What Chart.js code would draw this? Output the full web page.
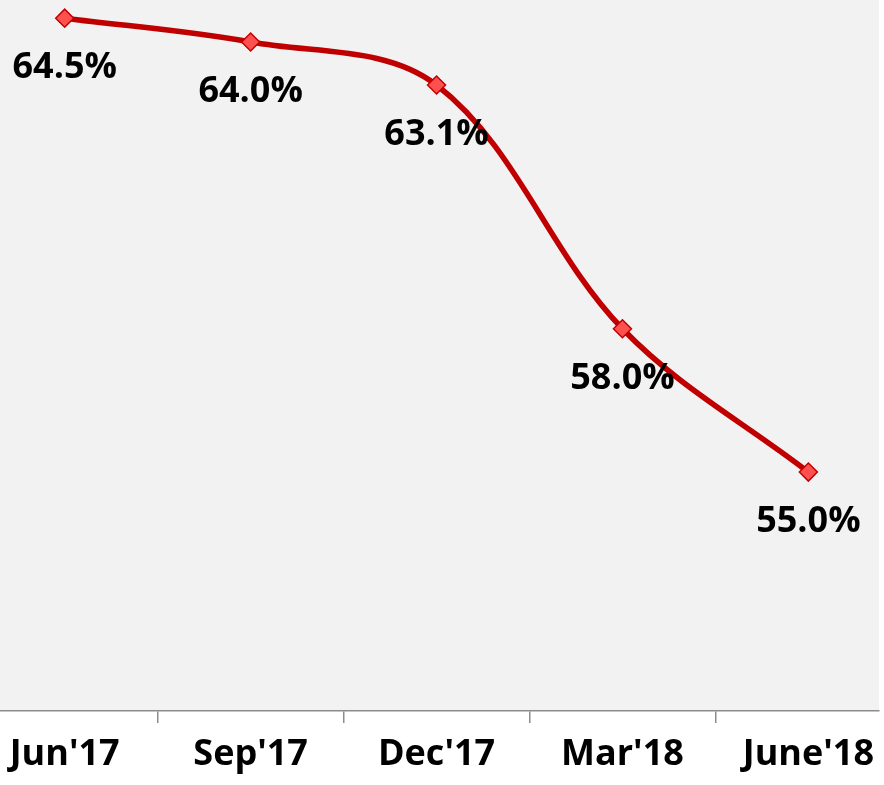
<!DOCTYPE html>
<html>
<head>
<meta charset="utf-8">
<script src="https://cdn.jsdelivr.net/npm/chart.js@4/dist/chart.umd.min.js"></script>
<style>
  html, body { margin: 0; padding: 0; background: #ffffff; overflow: hidden; }
  canvas { display: block; }
</style>
</head>
<body>
<canvas id="myChart" width="884" height="785"></canvas>
<script>
// chart data
var categories = ["Jun'17", "Sep'17", "Dec'17", "Mar'18", "June'18"];
var values = [64.5, 64.0, 63.1, 58.0, 55.0];
var valueLabels = ["64.5%", "64.0%", "63.1%", "58.0%", "55.0%"];

var FONT = "'Open Sans', 'DejaVu Sans', sans-serif";

// gray plot area, white below the axis
const plotBackground = {
    id: 'plotBackground',
    beforeDraw(chart) {
        const {ctx, chartArea} = chart;
        ctx.save();
        ctx.fillStyle = '#f2f2f2';
        ctx.fillRect(chartArea.left, chartArea.top, chartArea.right - chartArea.left, chartArea.bottom - chartArea.top);
        ctx.restore();
    }
};

// percent labels below each point
const valueLabelPlugin = {
    id: 'valueLabelPlugin',
    afterDatasetsDraw(chart) {
        const ctx = chart.ctx;
        const meta = chart.getDatasetMeta(0);
        ctx.save();
        ctx.fillStyle = '#000000';
        ctx.font = 'bold 36px ' + FONT;
        ctx.textAlign = 'center';
        ctx.textBaseline = 'middle';
        meta.data.forEach((pt, i) => {
            ctx.fillText(valueLabels[i], pt.x, pt.y + 50);
        });
        ctx.restore();
    }
};

const ctx = document.getElementById('myChart');
new Chart(ctx, {
    type: 'line',
    data: {
        datasets: [{
            data: values.map((v, i) => ({x: i, y: v})),
            borderColor: '#c00000',
            borderWidth: 5.5,
            tension: 0.35,
            pointStyle: 'rectRot',
            pointRadius: 9,
            pointHoverRadius: 9,
            pointBackgroundColor: '#ff5050',
            pointBorderColor: '#c00000',
            pointBorderWidth: 1.5,
            clip: false
        }]
    },
    options: {
        responsive: false,
        animation: false,
        layout: { padding: 0, autoPadding: false },
        plugins: {
            legend: { display: false },
            tooltip: { enabled: false }
        },
        scales: {
            x: {
                type: 'linear',
                min: -0.348,
                max: 4.38,
                afterBuildTicks: (scale) => {
                    const t = [];
                    for (let v = 0; v <= 4; v += 0.5) t.push({value: v});
                    scale.ticks = t;
                },
                afterFit: (scale) => { scale.height = 74; },
                grid: {
                    drawOnChartArea: false,
                    drawTicks: true,
                    tickLength: 12,
                    lineWidth: 1.5,
                    color: (c) => (c.tick && c.tick.value % 1 === 0) ? 'rgba(0,0,0,0)' : '#8c8c8c'
                },
                border: { display: true, color: '#8c8c8c', width: 1.5 },
                ticks: {
                    autoSkip: false,
                    maxRotation: 0,
                    minRotation: 0,
                    padding: 10,
                    color: '#000000',
                    font: { family: FONT, size: 36, weight: 'bold' },
                    callback: (v) => (v % 1 === 0) ? categories[v] : ''
                }
            },
            y: {
                display: false,
                min: 50,
                max: 64.88
            }
        }
    },
    plugins: [plotBackground, valueLabelPlugin]
});
</script>
</body>
</html>
